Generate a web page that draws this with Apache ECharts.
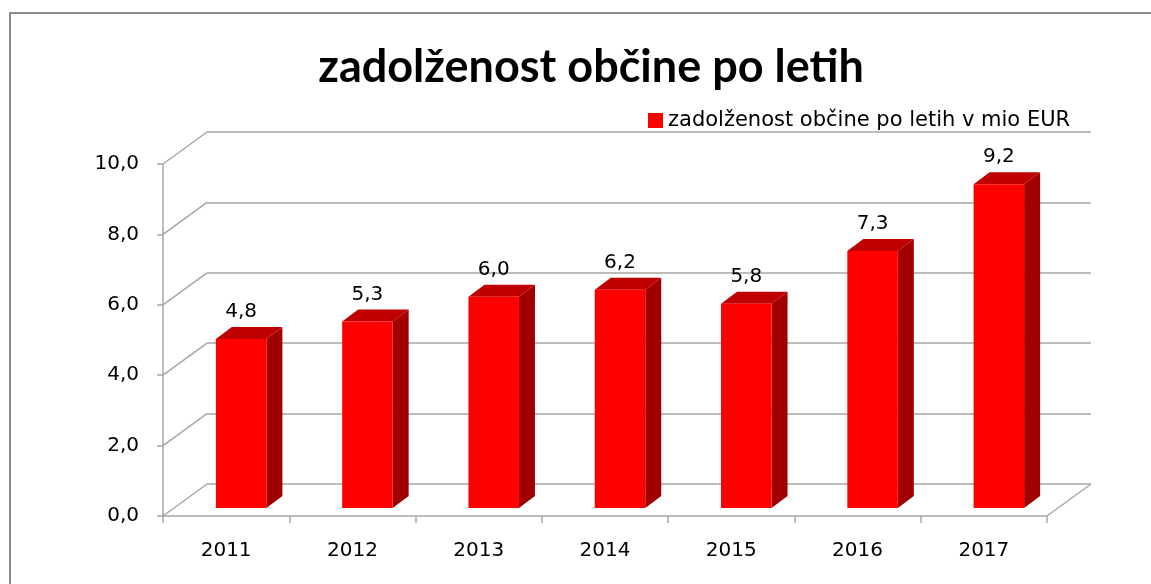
<!DOCTYPE html>
<html>
<head>
<meta charset="utf-8">
<script src="https://cdn.jsdelivr.net/npm/echarts@6/dist/echarts.min.js"></script>
<style>
  html, body { margin: 0; padding: 0; background: #fff; }
  #main { width: 1151px; height: 584px; }
</style>
</head>
<body>
<div id="main"></div>
<script>
// podatki
const years = ["2011", "2012", "2013", "2014", "2015", "2016", "2017"];
const debt = [4.8, 5.3, 6.0, 6.2, 5.8, 7.3, 9.2];
const yTicks = [0, 2, 4, 6, 8, 10];

const FONT = "DejaVu Sans";
const TITLE_FONT = "Lato";
const GRID_COLOR = "#a6a6a6";
// zamik zadnje stene (globina)
const WALL_DX = 44, WALL_DY = -32;
// zamik stolpcev v globino in globina stolpca
const BAR_DX = 15, BAR_DY = -8;
const DEPTH_DX = 16, DEPTH_DY = -12;

const fmt = (v) => Number(v).toFixed(1).replace(".", ",");

const chart = echarts.init(document.getElementById("main"));

// stolpec 3D: sprednja ploskev, stranska in zgornja
const renderBar = (params, api) => {
  const idx = api.value(0);
  const val = api.value(1);
  const base = api.coord([idx, 0]);
  const top = api.coord([idx, val]);
  const w = api.size([1, 0])[0] * 0.4;
  const x0 = base[0] + BAR_DX - w / 2;
  const x1 = x0 + w;
  const yb = base[1] + BAR_DY;
  const yt = top[1] + BAR_DY;
  return {
    type: "group",
    children: [
      {
        type: "polygon",
        shape: { points: [[x1, yb], [x1 + DEPTH_DX, yb + DEPTH_DY], [x1 + DEPTH_DX, yt + DEPTH_DY], [x1, yt]] },
        style: { fill: "#a00000" },
      },
      {
        type: "polygon",
        shape: { points: [[x0, yt], [x0 + DEPTH_DX, yt + DEPTH_DY], [x1 + DEPTH_DX, yt + DEPTH_DY], [x1, yt]] },
        style: { fill: "#c00000" },
      },
      {
        type: "rect",
        shape: { x: x0, y: yt, width: w, height: yb - yt },
        style: { fill: "#ff0000" },
      },
      {
        type: "text",
        x: (x0 + x1) / 2,
        y: yt - 27,
        style: {
          text: fmt(val),
          fill: "#000",
          font: "20px '" + FONT + "'",
          align: "center",
          verticalAlign: "middle",
        },
      },
    ],
  };
};

// diagonale med sprednjo osjo in zadnjo steno
const renderWallLinks = (params, api) => {
  const cs = params.coordSys;
  const v = api.value(0);
  const y = api.coord([0, v])[1];
  const children = [
    {
      type: "line",
      shape: { x1: cs.x, y1: y, x2: cs.x + WALL_DX, y2: y + WALL_DY },
      style: { stroke: GRID_COLOR, lineWidth: 1.5 },
    },
  ];
  if (v === 0) {
    children.push({
      type: "line",
      shape: { x1: cs.x + cs.width, y1: y, x2: cs.x + cs.width + WALL_DX, y2: y + WALL_DY },
      style: { stroke: GRID_COLOR, lineWidth: 1.5 },
    });
  }
  return { type: "group", children };
};

const option = {
  backgroundColor: "#fff",
  animation: false,
  title: {
    text: "zadolženost občine po letih",
    left: 586,
    textAlign: "center",
    top: 40,
    textStyle: { fontFamily: TITLE_FONT, fontSize: 45, fontWeight: "bold", color: "#000" },
  },
  legend: {
    left: 643,
    top: 105,
    itemWidth: 15,
    itemHeight: 15,
    icon: "rect",
    textStyle: { fontFamily: FONT, fontSize: 21, color: "#000" },
    data: [{ name: "zadolženost občine po letih v mio EUR", itemStyle: { color: "#ff0000" } }],
  },
  graphic: [
    {
      type: "polyline",
      shape: { points: [[10, 700], [10, 13], [1300, 13]] },
      style: { fill: null, stroke: "#8c8c8c", lineWidth: 2 },
      silent: true,
      z: -1,
    },
  ],
  grid: [
    { left: 163, right: 104, top: 164, bottom: 68 },
    { left: 163 + WALL_DX, right: 104 - WALL_DX, top: 164 + WALL_DY, bottom: 68 - WALL_DY },
  ],
  xAxis: [
    {
      type: "category",
      gridIndex: 0,
      data: years,
      axisLine: { lineStyle: { color: GRID_COLOR, width: 1.5 } },
      axisTick: { show: true, length: 7, lineStyle: { color: GRID_COLOR, width: 1.5 } },
      axisLabel: { color: "#000", fontFamily: FONT, fontSize: 20, margin: 25 },
    },
    {
      type: "category",
      gridIndex: 1,
      data: years,
      show: false,
    },
  ],
  yAxis: [
    {
      type: "value",
      gridIndex: 0,
      min: 0,
      max: 10,
      interval: 2,
      axisLine: { show: true, lineStyle: { color: GRID_COLOR, width: 1.5 } },
      axisTick: { show: true, length: 6, lineStyle: { color: GRID_COLOR, width: 1.5 } },
      splitLine: { show: false },
      axisLabel: { color: "#000", fontFamily: FONT, fontSize: 20, margin: 24, formatter: fmt },
    },
    {
      type: "value",
      gridIndex: 1,
      min: 0,
      max: 10,
      interval: 2,
      axisLine: { show: false },
      axisTick: { show: false },
      axisLabel: { show: false },
      splitLine: { show: true, lineStyle: { color: GRID_COLOR, width: 1.5 } },
    },
  ],
  series: [
    {
      type: "custom",
      name: "stena",
      xAxisIndex: 0,
      yAxisIndex: 0,
      renderItem: renderWallLinks,
      data: yTicks.map((t) => [t]),
      encode: { y: 0 },
      silent: true,
      z: 1,
    },
    {
      type: "custom",
      name: "zadolženost občine po letih v mio EUR",
      xAxisIndex: 0,
      yAxisIndex: 0,
      renderItem: renderBar,
      data: debt.map((v, i) => [i, v]),
      encode: { x: 0, y: 1 },
      itemStyle: { color: "#ff0000" },
      z: 3,
    },
  ],
};

chart.setOption(option);
</script>
</body>
</html>
